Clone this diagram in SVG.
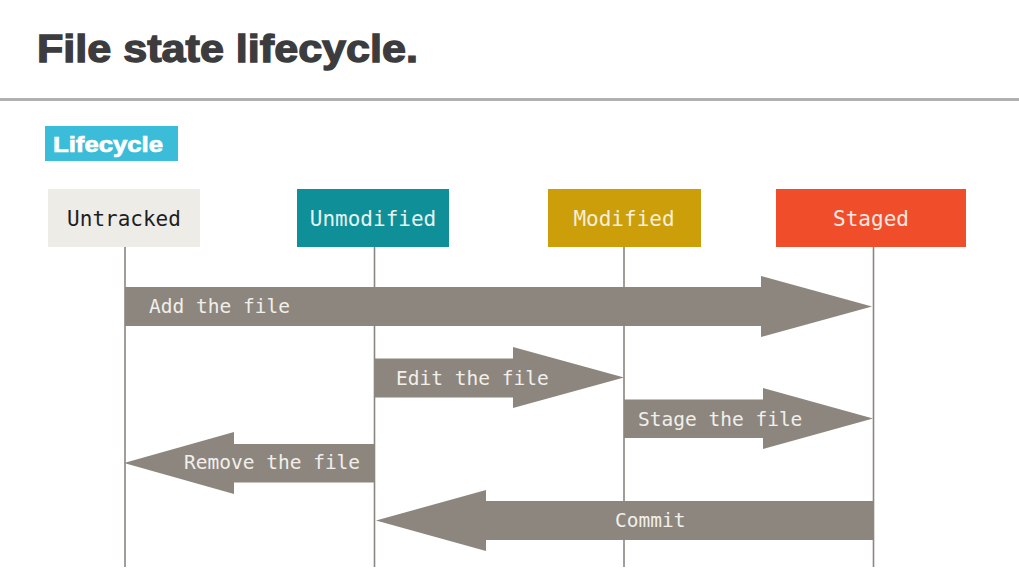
<svg xmlns="http://www.w3.org/2000/svg" width="1019" height="578" viewBox="0 0 1019 578">
<style>
.title{font-family:"Liberation Sans",Arial,sans-serif;font-weight:bold;font-size:38px;fill:#3c3c3e;stroke:#3c3c3e;stroke-width:1.3}
.badge{font-family:"Liberation Sans",Arial,sans-serif;font-weight:bold;font-size:22px;fill:#ffffff;stroke:#ffffff;stroke-width:0.7}
.hdr{font-family:"DejaVu Sans Mono",monospace;font-size:21px;text-anchor:middle}
.lbl{font-family:"DejaVu Sans Mono",monospace;font-size:19.5px;fill:#f2efea}
.life{stroke:#8a8680;stroke-width:1.6;fill:none}
.arr{fill:#8c867f}
</style>
<rect width="1019" height="578" fill="#ffffff"/>
<text class="title" x="37" y="62" textLength="381" lengthAdjust="spacingAndGlyphs">File state lifecycle.</text>
<rect x="0" y="98" width="1019" height="3" fill="#b0b0b0"/>
<g id="badge">
<rect x="45" y="126" width="133" height="35" fill="#3bbdd9"/>
<text class="badge" x="53" y="152" textLength="110" lengthAdjust="spacingAndGlyphs">Lifecycle</text>
</g>
<g id="lifelines">
<line class="life" x1="125" y1="247" x2="125" y2="567"/>
<line class="life" x1="374.5" y1="247" x2="374.5" y2="567"/>
<line class="life" x1="624" y1="247" x2="624" y2="567"/>
<line class="life" x1="873.5" y1="247" x2="873.5" y2="567"/>
</g>
<g id="untracked">
<rect x="48" y="189" width="152" height="58" fill="#eeece7"/>
<text class="hdr" x="124" y="226" fill="#1e1e1e">Untracked</text>
</g>
<g id="unmodified">
<rect x="297" y="189" width="152" height="58" fill="#0f8f97"/>
<text class="hdr" x="373" y="226" fill="#e4f3f3">Unmodified</text>
</g>
<g id="modified">
<rect x="548" y="189" width="153" height="58" fill="#cb9e0a"/>
<text class="hdr" x="624" y="226" fill="#f6eed8">Modified</text>
</g>
<g id="staged">
<rect x="776" y="189" width="190" height="58" fill="#f04e2b"/>
<text class="hdr" x="871" y="226" fill="#fde8e2">Staged</text>
</g>
<g id="connectors">
<g id="add">
<polygon class="arr" points="125,287 761,287 761,276 872,306.5 761,337 761,326 125,326"/>
<text class="lbl" x="149" y="313">Add the file</text>
</g>
<g id="edit">
<polygon class="arr" points="374.5,358.5 513,358.5 513,347 624,377.5 513,408 513,397.5 374.5,397.5"/>
<text class="lbl" x="396" y="385">Edit the file</text>
</g>
<g id="stage">
<polygon class="arr" points="624,399.5 763,399.5 763,388 873,418.5 763,449 763,438 624,438"/>
<text class="lbl" x="638" y="426">Stage the file</text>
</g>
<g id="remove">
<polygon class="arr" points="374.5,444 234,444 234,432 124,463 234,494 234,482.5 374.5,482.5"/>
<text class="lbl" x="184" y="469">Remove the file</text>
</g>
<g id="commit">
<polygon class="arr" points="873.5,501 486,501 486,490 376,520.5 486,551 486,540 873.5,540"/>
<text class="lbl" x="615" y="527">Commit</text>
</g>
</g>
</svg>
